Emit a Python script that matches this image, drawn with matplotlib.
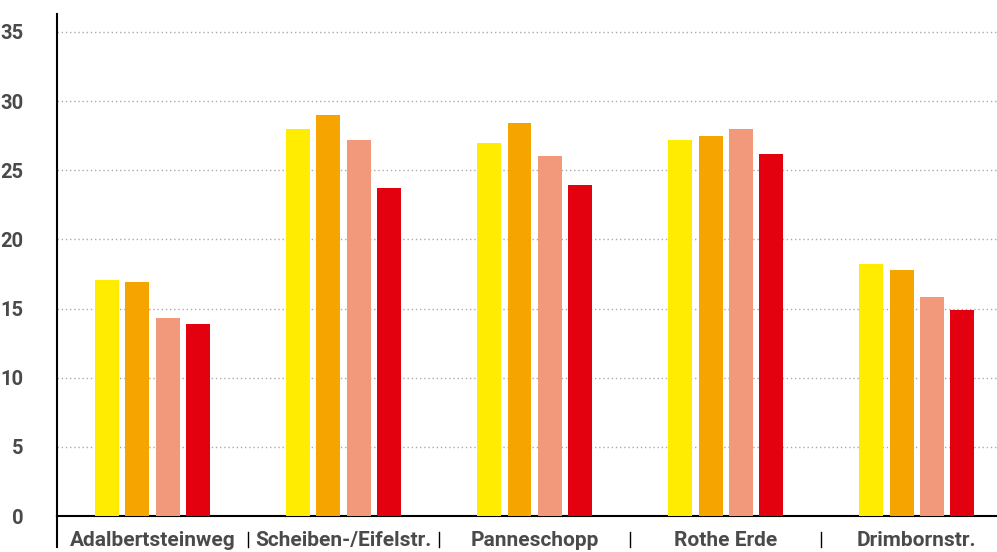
import numpy as np
import matplotlib
matplotlib.use("Agg")
import matplotlib.pyplot as plt
import matplotlib.transforms as mtransforms

# data
categories = ["Adalbertsteinweg", "Scheiben-/Eifelstr.", "Panneschopp", "Rothe Erde", "Drimbornstr."]
series_1 = [17.1, 28.0, 27.0, 27.2, 18.2]
series_2 = [16.9, 29.0, 28.4, 27.5, 17.8]
series_3 = [14.3, 27.2, 26.0, 28.0, 15.8]
series_4 = [13.9, 23.7, 23.9, 26.2, 14.9]
y_ticks = [0, 5, 10, 15, 20, 25, 30, 35]

colors = ["#FFEC00", "#F6A500", "#F2987B", "#E3000F"]
text_color = "#4a4a4a"

plt.rcParams["font.family"] = ["Roboto", "DejaVu Sans"]

fig = plt.figure(figsize=(9.97, 5.52), dpi=100)
ax = fig.add_axes([57 / 997, 36 / 552, 940 / 997, 502 / 552])

x = np.arange(len(categories))
step = 0.1586
width = 0.1255
all_series = [series_1, series_2, series_3, series_4]
for i, vals in enumerate(all_series):
    ax.bar(x + (i - 1.5) * step, vals, width=width, color=colors[i], zorder=3)

ax.set_xlim(-0.5, 4.42)
ax.set_ylim(0, 36.3)

# grid
ax.set_yticks(y_ticks)
ax.yaxis.grid(True, color="#aaaaaa", linestyle=(0, (1, 2)), linewidth=1.0, zorder=0)
ax.set_axisbelow(True)

# spines
for s in ["top", "right"]:
    ax.spines[s].set_visible(False)
ax.spines["left"].set_color("black")
ax.spines["left"].set_linewidth(1.5)
ax.spines["bottom"].set_color("black")
ax.spines["bottom"].set_linewidth(1.5)

ax.tick_params(axis="y", length=0, pad=24, labelsize=14.5, labelcolor=text_color)
for lab in ax.get_yticklabels():
    lab.set_fontweight("bold")

ax.set_xticks(x)
ax.set_xticklabels(categories, fontsize=15, fontweight="bold", color=text_color)
ax.tick_params(axis="x", length=0, pad=10.5)

# separators below the axis
trans = mtransforms.blended_transform_factory(ax.transData, ax.transAxes)
px = 1.0 / 502
ax.plot([-0.5, -0.5], [0, -31 * px], color="black", lw=1.5, transform=trans, clip_on=False)
for b in [0.5, 1.5, 2.5, 3.5]:
    ax.plot([b, b], [-16 * px, -31 * px], color="black", lw=1.0, transform=trans, clip_on=False)

fig.savefig("out.png", dpi=100)
